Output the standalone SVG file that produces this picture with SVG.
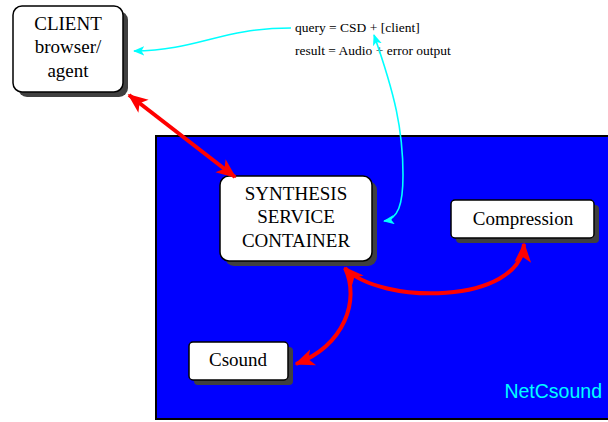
<svg xmlns="http://www.w3.org/2000/svg" width="608" height="422" viewBox="0 0 608 422">
<style>
.box{fill:#fff;stroke:#000;stroke-width:1.5}
.sh{fill:#404040}
text.t{font-family:'Liberation Serif','Times New Roman',serif;font-size:19px;fill:#000;text-anchor:middle}
text.lab{font-family:'Liberation Serif','Times New Roman',serif;font-size:13.5px;fill:#000}
.red{fill:none;stroke:#ff0000;stroke-width:4}
.cy{fill:none;stroke:#00ffff;stroke-width:1.6}
</style>
<defs>
<marker id="ar" viewBox="0 0 12 10" refX="11" refY="5" markerWidth="5" markerHeight="5" orient="auto-start-reverse" markerUnits="strokeWidth">
<path d="M0,0 L12,5 L0,10 L3,5 z" fill="#ff0000"/>
</marker>
<marker id="ac" viewBox="0 0 12 10" refX="11" refY="5" markerWidth="7" markerHeight="6" orient="auto-start-reverse" markerUnits="strokeWidth">
<path d="M0,0 L12,5 L0,10 L3,5 z" fill="#00ffff"/>
</marker>
</defs>
<rect width="608" height="422" fill="#fff"/>
<g id="netcsound">
<rect x="156" y="136" width="470" height="283" fill="#0000ff" stroke="#000" stroke-width="2"/>
<text x="602" y="398" font-family="'Liberation Sans',Arial,sans-serif" font-size="19.5" fill="#00ffff" text-anchor="end">NetCsound</text>
</g>
<g id="client">
<rect class="sh" x="18" y="11" width="110" height="86" rx="9"/>
<rect class="box" x="13" y="6" width="110" height="86" rx="9"/>
<text class="t" font-family="'Liberation Serif',serif" x="68" y="30">CLIENT</text>
<text class="t" font-family="'Liberation Serif',serif" x="68" y="53">browser/</text>
<text class="t" font-family="'Liberation Serif',serif" x="68" y="77">agent</text>
</g>
<g id="synthesis">
<rect class="sh" x="225" y="181" width="152" height="85" rx="9"/>
<rect class="box" x="220" y="176" width="152" height="85" rx="9"/>
<text class="t" font-family="'Liberation Serif',serif" x="296" y="200">SYNTHESIS</text>
<text class="t" font-family="'Liberation Serif',serif" x="296" y="223">SERVICE</text>
<text class="t" font-family="'Liberation Serif',serif" x="296" y="247">CONTAINER</text>
</g>
<g id="compression">
<rect class="sh" x="456" y="205" width="143" height="38" rx="4"/>
<rect class="box" x="451" y="200" width="143" height="38" rx="4"/>
<text class="t" font-family="'Liberation Serif',serif" x="523" y="225">Compression</text>
</g>
<g id="csound">
<rect class="sh" x="194" y="347" width="99" height="38" rx="4"/>
<rect class="box" x="189" y="342" width="99" height="38" rx="4"/>
<text class="t" font-family="'Liberation Serif',serif" x="238" y="366">Csound</text>
</g>
<g id="labels">
<text class="lab" font-family="'Liberation Serif',serif" x="295" y="32">query = CSD + [client]</text>
<text class="lab" font-family="'Liberation Serif',serif" x="295" y="55">result = Audio + error output</text>
</g>
<g id="connectors">
<path class="red" d="M129,95 L235,177" marker-start="url(#ar)" marker-end="url(#ar)"/>
<path class="red" d="M345,268 C380,305 520,305 524,244" marker-start="url(#ar)" marker-end="url(#ar)"/>
<path class="red" d="M345,268 C360,300 345,345 296,364" marker-end="url(#ar)"/>
<path class="cy" d="M291,28 C220,28 200,50 134,51" marker-end="url(#ac)"/>
<path class="cy" d="M374,35 C395,95 403,130 403,175 C403,205 398,219 384,221" marker-start="url(#ac)" marker-end="url(#ac)"/>
</g>
</svg>
